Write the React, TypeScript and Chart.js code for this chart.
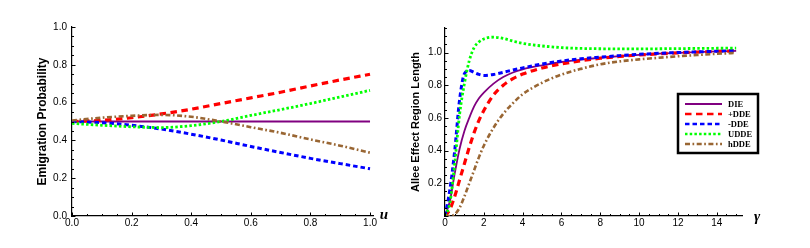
import React, { useEffect, useRef } from 'react';
import { Chart, registerables } from 'chart.js';

Chart.register(...registerables);

// ---------- Left panel data ----------
const U_VALUES = [0, 0.1, 0.2, 0.3, 0.4, 0.5, 0.6, 0.7, 0.8, 0.9, 1.0];
const LEFT_DIE = [0.5, 0.5, 0.5, 0.5, 0.5, 0.5, 0.5, 0.5, 0.5, 0.5, 0.5];
const LEFT_PLUS_DDE = [0.5, 0.506, 0.52, 0.54, 0.565, 0.595, 0.625, 0.655, 0.688, 0.72, 0.75];
const LEFT_MINUS_DDE = [0.5, 0.494, 0.48, 0.46, 0.433, 0.402, 0.368, 0.336, 0.305, 0.277, 0.25];
const LEFT_UDDE = [0.49, 0.48, 0.472, 0.468, 0.478, 0.5, 0.532, 0.563, 0.595, 0.63, 0.665];
const LEFT_HDDE = [0.505, 0.52, 0.53, 0.535, 0.525, 0.5, 0.47, 0.44, 0.405, 0.372, 0.335];
const LEFT_X_TICKS = [0, 0.2, 0.4, 0.6, 0.8, 1.0];
const LEFT_Y_TICKS = [0, 0.2, 0.4, 0.6, 0.8, 1.0];
const LEFT_Y_TITLE = 'Emigration Probability';
const LEFT_X_LABEL = 'u';

// ---------- Right panel data ----------
const GAMMA = [0, 0.25, 0.5, 0.75, 1, 1.25, 1.5, 1.75, 2, 2.5, 3, 3.5, 4, 5, 6, 7, 8, 9, 10, 11, 12, 13, 14, 15];
const RIGHT_DIE = [0, 0.09, 0.26, 0.41, 0.52, 0.6, 0.67, 0.72, 0.755, 0.81, 0.85, 0.878, 0.897, 0.922, 0.942, 0.956, 0.968, 0.978, 0.986, 0.993, 0.998, 1.003, 1.007, 1.01];
const RIGHT_PLUS_DDE = [0, 0.04, 0.12, 0.22, 0.32, 0.42, 0.51, 0.585, 0.645, 0.74, 0.8, 0.84, 0.868, 0.905, 0.93, 0.95, 0.965, 0.976, 0.985, 0.992, 0.998, 1.003, 1.007, 1.01];
const RIGHT_MINUS_DDE = [0, 0.16, 0.4, 0.71, 0.87, 0.89, 0.878, 0.866, 0.86, 0.866, 0.879, 0.893, 0.906, 0.93, 0.948, 0.962, 0.972, 0.981, 0.989, 0.995, 1.0, 1.004, 1.008, 1.012];
const RIGHT_UDDE = [0, 0.08, 0.32, 0.62, 0.81, 0.95, 1.03, 1.065, 1.083, 1.094, 1.086, 1.07, 1.056, 1.04, 1.03, 1.025, 1.023, 1.022, 1.022, 1.023, 1.024, 1.025, 1.026, 1.027];
const RIGHT_HDDE = [0, 0, 0.01, 0.05, 0.12, 0.2, 0.28, 0.36, 0.43, 0.54, 0.625, 0.69, 0.745, 0.815, 0.865, 0.9, 0.928, 0.946, 0.958, 0.968, 0.977, 0.985, 0.992, 0.998];
const RIGHT_X_TICKS = [0, 2, 4, 6, 8, 10, 12, 14];
const RIGHT_Y_TICKS = [0.2, 0.4, 0.6, 0.8, 1.0];
const RIGHT_Y_TITLE = 'Allee Effect Region Length';
const RIGHT_X_LABEL = 'γ';

const SERIES_LABELS = ['DIE', '+DDE', '-DDE', 'UDDE', 'hDDE'];

const SANS = "'Liberation Sans', Arial, sans-serif";
const TICK_FONT = "'Liberation Sans Narrow', 'Arial Narrow', 'Liberation Sans', sans-serif";
const SERIF = "'Liberation Serif', 'Times New Roman', serif";

const STYLES = [
  { color: 'rgb(128,0,128)', width: 1.8, dash: [] as number[] },
  { color: 'rgb(255,0,0)', width: 3.2, dash: [6.5, 4.5] },
  { color: 'rgb(0,0,255)', width: 3, dash: [4.5, 3] },
  { color: 'rgb(0,255,0)', width: 2.8, dash: [2.5, 2.2] },
  { color: 'rgb(153,102,51)', width: 2.6, dash: [5, 2.5, 1.7, 2.5] },
];

function makeDatasets(xs: number[], series: number[][]) {
  return series.map((ys, i) => ({
    label: SERIES_LABELS[i],
    data: xs.map((x, j) => ({ x, y: ys[j] })),
    borderColor: STYLES[i].color,
    borderWidth: STYLES[i].width,
    borderDash: STYLES[i].dash,
    borderCapStyle: 'butt',
    pointRadius: 0,
    fill: false,
    cubicInterpolationMode: 'monotone',
    order: series.length - i,
  }));
}

const mathAxesPlugin = {
  id: 'mathAxes',
  afterDraw(chart: any, _args: any, opts: any) {
    const ctx = chart.ctx;
    const xs = chart.scales.x;
    const ys = chart.scales.y;
    const area = chart.chartArea;
    ctx.save();
    ctx.strokeStyle = '#000';
    ctx.lineWidth = 1;
    const drawTicks = (scale: any, minor: number, major: number, horizontal: boolean) => {
      const n = Math.round((scale.max - scale.min) / minor);
      for (let i = 0; i <= n; i++) {
        const v = scale.min + i * minor;
        if (v > scale.max + 1e-9) break;
        const r = v / major;
        const isMajor = Math.abs(r - Math.round(r)) < 1e-6;
        const len = isMajor ? 3.5 : 2;
        const p = Math.round(scale.getPixelForValue(v)) + 0.5;
        ctx.beginPath();
        if (horizontal) {
          ctx.moveTo(p, area.bottom);
          ctx.lineTo(p, area.bottom - len);
        } else {
          ctx.moveTo(area.left, p);
          ctx.lineTo(area.left + len, p);
        }
        ctx.stroke();
      }
    };
    drawTicks(xs, opts.xMinor, opts.xMajor, true);
    drawTicks(ys, opts.yMinor, opts.yMajor, false);
    ctx.fillStyle = '#000';
    ctx.font = 'italic bold 15px ' + SERIF;
    ctx.textAlign = 'center';
    ctx.textBaseline = 'middle';
    ctx.fillText(opts.label, area.right + opts.labelDx, area.bottom + opts.labelDy);
    ctx.restore();
  },
};

const boxLegendPlugin = {
  id: 'boxLegend',
  afterDraw(chart: any, _args: any, opts: any) {
    if (!opts || !opts.display) return;
    const ctx = chart.ctx;
    const { x, y, w, h, firstRow, rowH, pad, lineLen, textGap } = opts;
    ctx.save();
    ctx.fillStyle = '#fff';
    ctx.fillRect(x, y, w, h);
    ctx.strokeStyle = '#000';
    ctx.lineWidth = 2.5;
    ctx.setLineDash([]);
    ctx.strokeRect(x, y, w, h);
    chart.data.datasets.forEach((ds: any, i: number) => {
      const cy = y + firstRow + i * rowH;
      ctx.beginPath();
      ctx.setLineDash(ds.borderDash || []);
      ctx.strokeStyle = ds.borderColor;
      ctx.lineWidth = Math.min(ds.borderWidth, 2.6);
      ctx.lineCap = 'butt';
      ctx.moveTo(x + pad, cy);
      ctx.lineTo(x + pad + lineLen, cy);
      ctx.stroke();
      ctx.setLineDash([]);
      ctx.fillStyle = '#000';
      ctx.font = 'bold 8.5px ' + SERIF;
      ctx.textAlign = 'left';
      ctx.textBaseline = 'middle';
      ctx.fillText(ds.label, x + pad + lineLen + textGap, cy + 0.5);
    });
    ctx.restore();
  },
};

function makeConfig(p: any): any {
  return {
    type: 'line',
    data: { datasets: p.datasets },
    plugins: [mathAxesPlugin, boxLegendPlugin],
    options: {
      responsive: false,
      animation: false,
      events: [],
      layout: { padding: { top: p.padTop, right: p.padRight, left: 0, bottom: 0 } },
      plugins: {
        legend: { display: false },
        tooltip: { enabled: false },
        mathAxes: p.axes,
        boxLegend: p.legend,
      },
      scales: {
        x: {
          type: 'linear',
          min: p.xMin,
          max: p.xMax,
          afterFit: (s: any) => { s.height = p.xHeight; },
          afterBuildTicks: (s: any) => { s.ticks = p.xTicks.map((v: number) => ({ value: v })); },
          ticks: {
            autoSkip: false,
            maxRotation: 0,
            padding: 1.5,
            color: '#000',
            font: { family: TICK_FONT, size: 10 },
            callback: (v: number) => p.xFmt(v),
          },
          grid: { display: false, drawTicks: false },
          border: { display: true, color: '#000', width: 1.2 },
        },
        y: {
          type: 'linear',
          min: p.yMin,
          max: p.yMax,
          afterFit: (s: any) => { s.width = p.yWidth; },
          afterBuildTicks: (s: any) => { s.ticks = p.yTicks.map((v: number) => ({ value: v })); },
          ticks: {
            autoSkip: false,
            padding: p.yTickPad,
            color: '#000',
            font: { family: TICK_FONT, size: 10 },
            callback: (v: number) => v.toFixed(1),
          },
          grid: { display: false, drawTicks: false },
          border: { display: true, color: '#000', width: 1.2 },
          title: {
            display: true,
            text: p.yTitle,
            color: '#000',
            font: { family: SANS, size: p.yTitleSize, weight: 'bold' },
            padding: { top: p.yTitlePad, bottom: 0 },
          },
        },
      },
    },
  };
}

function LeftChart() {
  const ref = useRef<HTMLCanvasElement>(null);
  useEffect(() => {
    const chart = new Chart(ref.current as HTMLCanvasElement, makeConfig({
      datasets: makeDatasets(U_VALUES, [LEFT_DIE, LEFT_PLUS_DDE, LEFT_MINUS_DDE, LEFT_UDDE, LEFT_HDDE]),
      padTop: 27, padRight: 32,
      xMin: 0, xMax: 1.01, xHeight: 32, xTicks: LEFT_X_TICKS, xFmt: (v: number) => v.toFixed(1),
      yMin: 0, yMax: 1.0, yWidth: 72, yTicks: LEFT_Y_TICKS, yTickPad: 5,
      yTitle: LEFT_Y_TITLE, yTitleSize: 12, yTitlePad: 35,
      axes: { xMinor: 0.05, xMajor: 0.2, yMinor: 0.05, yMajor: 0.2, label: LEFT_X_LABEL, labelDx: 11, labelDy: -1 },
      legend: { display: false },
    }));
    return () => chart.destroy();
  }, []);
  return <canvas ref={ref} width={405} height={248} style={{ position: 'absolute', left: 0, top: 0, width: 405, height: 248 }} />;
}

function RightChart() {
  const ref = useRef<HTMLCanvasElement>(null);
  useEffect(() => {
    const chart = new Chart(ref.current as HTMLCanvasElement, makeConfig({
      datasets: makeDatasets(GAMMA, [RIGHT_DIE, RIGHT_PLUS_DDE, RIGHT_MINUS_DDE, RIGHT_UDDE, RIGHT_HDDE]),
      padTop: 28, padRight: 68,
      xMin: 0, xMax: 15.3, xHeight: 32, xTicks: RIGHT_X_TICKS, xFmt: (v: number) => String(Math.round(v)),
      yMin: 0, yMax: 1.15, yWidth: 40, yTicks: RIGHT_Y_TICKS, yTickPad: 3,
      yTitle: RIGHT_Y_TITLE, yTitleSize: 11, yTitlePad: 4.5,
      axes: { xMinor: 0.5, xMajor: 2, yMinor: 0.05, yMajor: 0.2, label: RIGHT_X_LABEL, labelDx: 15, labelDy: 1 },
      legend: { display: true, x: 273, y: 94, w: 80, h: 59, firstRow: 10, rowH: 10, pad: 7, lineLen: 37, textGap: 6 },
    }));
    return () => chart.destroy();
  }, []);
  return <canvas ref={ref} width={405} height={248} style={{ position: 'absolute', left: 405, top: 0, width: 405, height: 248 }} />;
}

export default function App() {
  return (
    <div style={{ position: 'absolute', left: 0, top: 0, width: 810, height: 248, background: '#fff', overflow: 'hidden' }}>
      <LeftChart />
      <RightChart />
    </div>
  );
}
